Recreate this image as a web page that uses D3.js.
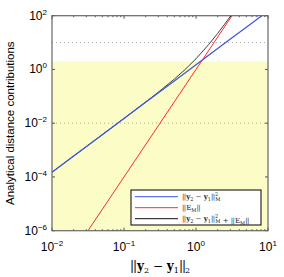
<!DOCTYPE html>
<html>
<head>
<meta charset="utf-8">
<script src="https://cdn.jsdelivr.net/npm/d3@7"></script>
<style>
  body { margin: 0; background: #fff; }
  svg { display: block; }
</style>
</head>
<body>
<div id="chart"></div>
<script>
// values
const blueX = [0.01, 0.02, 0.05, 0.1, 0.2, 0.5, 1, 2, 3, 5, 8.2];
const blueY = [1.5e-4, 6e-4, 3.75e-3, 0.015, 0.06, 0.375, 1.5, 6, 13.5, 37.5, 100];

const redX = [0.0316, 0.1, 1, 3.16];
const redY = [1e-6, 1e-4, 1, 100];

const blackX = [0.01, 0.03, 0.1, 0.2, 0.3, 0.5, 0.7, 1, 1.5, 2, 2.5, 3.05];
const blackY = [1.5e-4, 1.35e-3, 0.0151, 0.0616, 0.143, 0.4375, 0.975, 2.5, 8.44, 22, 48.4, 100];

const yellowTop = 2;
const gridValues = [10, 0.01];

const xTicks = [0.01, 0.1, 1, 10];
const xTickExp = ["\u22122", "\u22121", "0", "1"];
const yTicks = [100, 1, 0.01, 1e-4, 1e-6];
const yTickExp = ["2", "0", "\u22122", "\u22124", "\u22126"];

const width = 284;
const height = 277;
const margin = { top: 15.7, right: 16, bottom: 46.3, left: 52 };
const w = width - margin.left - margin.right;
const h = height - margin.top - margin.bottom;

const svg = d3.select("#chart")
  .append("svg")
  .attr("width", width)
  .attr("height", height);

const g = svg.append("g")
  .attr("transform", `translate(${margin.left}, ${margin.top})`);

const x = d3.scaleLog().domain([0.01, 10]).range([0, w]);
const y = d3.scaleLog().domain([1e-6, 100]).range([h, 0]);

svg.append("defs").append("clipPath")
  .attr("id", "clip")
  .append("rect")
  .attr("width", w)
  .attr("height", h);

// yellow band
g.append("rect")
  .attr("x", 0)
  .attr("y", y(yellowTop))
  .attr("width", w)
  .attr("height", h - y(yellowTop))
  .style("fill", "#fcfcc6");

// dotted grid
g.selectAll(".grid")
  .data(gridValues)
  .enter()
  .append("line")
  .attr("x1", 0)
  .attr("x2", w)
  .attr("y1", d => y(d))
  .attr("y2", d => y(d))
  .style("stroke", "#aaa")
  .style("stroke-width", 1)
  .style("stroke-dasharray", "1,3");

// ticks, inward
const minorX = [];
[0.01, 0.1, 1].forEach(b => {
  for (let k = 2; k <= 9; k++) minorX.push(b * k);
});

const tickGroup = g.append("g")
  .style("stroke", "#555")
  .style("stroke-width", 1);

xTicks.forEach(t => {
  tickGroup.append("line").attr("x1", x(t)).attr("x2", x(t)).attr("y1", h).attr("y2", h - 3);
  tickGroup.append("line").attr("x1", x(t)).attr("x2", x(t)).attr("y1", 0).attr("y2", 3);
});
minorX.forEach(t => {
  tickGroup.append("line").attr("x1", x(t)).attr("x2", x(t)).attr("y1", h).attr("y2", h - 1.5);
  tickGroup.append("line").attr("x1", x(t)).attr("x2", x(t)).attr("y1", 0).attr("y2", 1.5);
});
yTicks.forEach(t => {
  tickGroup.append("line").attr("x1", 0).attr("x2", 3).attr("y1", y(t)).attr("y2", y(t));
  tickGroup.append("line").attr("x1", w).attr("x2", w - 3).attr("y1", y(t)).attr("y2", y(t));
});

// curves
const line = d3.line()
  .x(d => x(d[0]))
  .y(d => y(d[1]));

const series = [
  { xs: blueX, ys: blueY, color: "#3d55e6", sw: 1.2 },
  { xs: redX, ys: redY, color: "#ff2a2a", sw: 1 },
  { xs: blackX, ys: blackY, color: "#111", sw: 0.8 }
];

// black underneath, blue on top
const curves = g.append("g").attr("clip-path", "url(#clip)");
[2, 1, 0].forEach(i => {
  const s = series[i];
  curves.append("path")
    .attr("d", line(s.xs.map((v, j) => [v, s.ys[j]])))
    .style("fill", "none")
    .style("stroke", s.color)
    .style("stroke-width", s.sw);
});

// frame
g.append("rect")
  .attr("width", w)
  .attr("height", h)
  .style("fill", "none")
  .style("stroke", "#666")
  .style("stroke-width", 1.2);

// tick labels
const sans = "'Liberation Sans', Arial, sans-serif";

xTicks.forEach((t, i) => {
  const txt = g.append("text")
    .attr("x", x(t))
    .attr("y", h + 20)
    .attr("text-anchor", "middle")
    .style("font-family", sans)
    .style("font-size", "12px");
  txt.append("tspan").text("10");
  txt.append("tspan").attr("dy", -5).style("font-size", "8px").text(xTickExp[i]);
});

yTicks.forEach((t, i) => {
  const txt = g.append("text")
    .attr("x", -5)
    .attr("y", y(t) + 4)
    .attr("text-anchor", "end")
    .style("font-family", sans)
    .style("font-size", "12px");
  txt.append("tspan").text("10");
  txt.append("tspan").attr("dy", -5).style("font-size", "8px").text(yTickExp[i]);
});

// axis titles
svg.append("text")
  .attr("transform", `translate(14, ${margin.top + h / 2}) rotate(-90)`)
  .attr("text-anchor", "middle")
  .style("font-family", sans)
  .style("font-size", "11.5px")
  .text("Analytical distance contributions");

const serif = "'DejaVu Serif', 'Liberation Serif', serif";
const bars = "||";

const xt = svg.append("text")
  .attr("x", margin.left + w / 2)
  .attr("y", 270)
  .attr("text-anchor", "middle")
  .style("font-family", serif)
  .style("font-size", "12px");
xt.append("tspan").style("letter-spacing", "-1px").text(bars);
xt.append("tspan").attr("dx", 1).style("font-weight", "bold").text("y");
xt.append("tspan").attr("dy", 3).style("font-size", "8px").text("2");
xt.append("tspan").attr("dy", -3).text(" \u2212 ");
xt.append("tspan").style("font-weight", "bold").text("y");
xt.append("tspan").attr("dy", 3).style("font-size", "8px").text("1");
xt.append("tspan").attr("dy", -3).style("letter-spacing", "-1px").text(bars);
xt.append("tspan").attr("dy", 3).style("font-size", "8px").text("2");

// legend
const legend = g.append("g")
  .attr("transform", `translate(${131 - margin.left}, ${190 - margin.top})`);

legend.append("rect")
  .attr("width", 130)
  .attr("height", 35)
  .style("fill", "#fff")
  .style("stroke", "#000")
  .style("stroke-width", 1);

function normPart(t, fs) {
  t.append("tspan").style("letter-spacing", "-0.6px").text(bars);
  t.append("tspan").attr("dx", 0.6).style("font-weight", "bold").text("y");
  t.append("tspan").attr("dy", 1.5).style("font-size", fs).text("2");
  t.append("tspan").attr("dy", -1.5).text(" \u2212 ");
  t.append("tspan").style("font-weight", "bold").text("y");
  t.append("tspan").attr("dy", 1.5).style("font-size", fs).text("1");
  t.append("tspan").attr("dy", -1.5).style("letter-spacing", "-0.6px").text(bars);
  t.append("tspan").attr("dx", 0.6).attr("dy", -3).style("font-size", fs).text("2");
  t.append("tspan").attr("dx", -3).attr("dy", 5).style("font-size", fs).text("M");
  t.append("tspan").attr("dy", -2).text("");
}
function emPart(t, fs) {
  t.append("tspan").style("letter-spacing", "-0.6px").text(bars);
  t.append("tspan").attr("dx", 0.6).text("E");
  t.append("tspan").attr("dy", 1.5).style("font-size", fs).text("M");
  t.append("tspan").attr("dy", -1.5).style("letter-spacing", "-0.6px").text(bars);
}

const entryY = [6.7, 17.7, 28.7];
series.forEach((s, i) => {
  legend.append("line")
    .attr("x1", 4)
    .attr("x2", 47)
    .attr("y1", entryY[i])
    .attr("y2", entryY[i])
    .style("stroke", s.color)
    .style("stroke-width", 1);
  const t = legend.append("text")
    .attr("x", 51)
    .attr("y", entryY[i] + 2.5)
    .style("font-family", serif)
    .style("font-size", "7px")
    .style("fill", "#222");
  if (i === 0) normPart(t, "5px");
  if (i === 1) emPart(t, "5px");
  if (i === 2) {
    normPart(t, "5px");
    t.append("tspan").text(" + ");
    emPart(t, "5px");
  }
});
</script>
</body>
</html>
